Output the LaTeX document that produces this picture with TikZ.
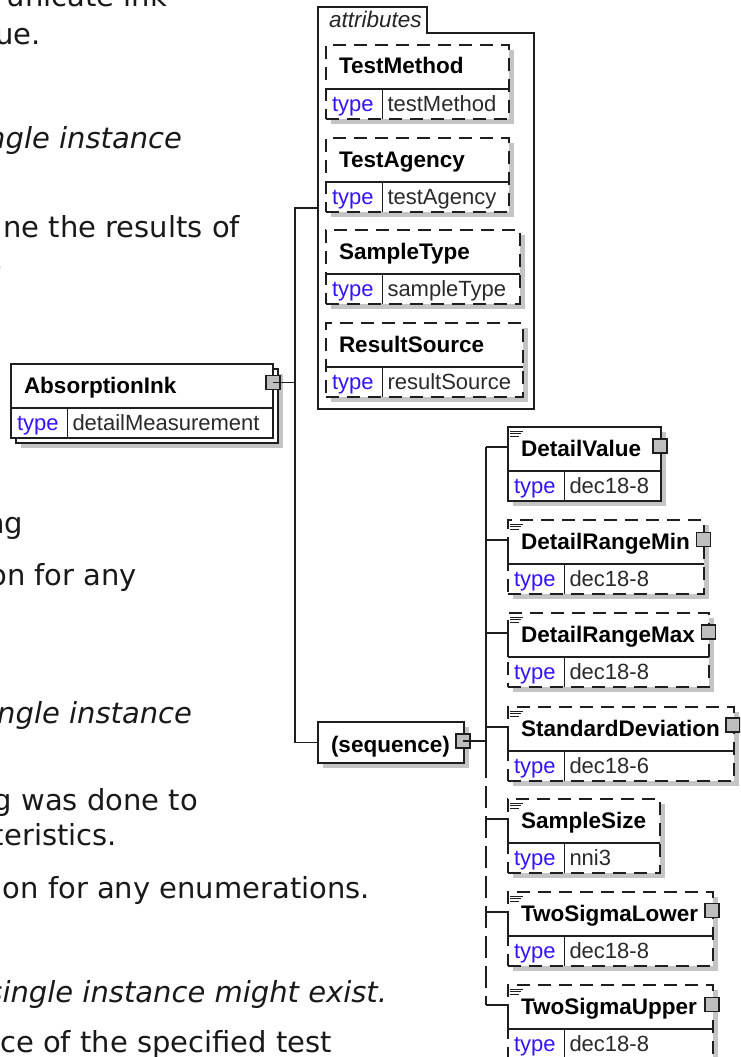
\documentclass[tikz,border=0pt]{standalone}
\usepackage{fontspec}
\setmainfont{Liberation Sans}
\newfontfamily\bgfont{DejaVu Sans}[ItalicFont={DejaVu Sans Oblique}]
\definecolor{typeblue}{HTML}{3314FF}
\definecolor{valtext}{HTML}{2A2A2A}
\definecolor{shadowgray}{HTML}{C4C4C4}
\definecolor{sqgray}{HTML}{BEBEBE}
\definecolor{linecol}{HTML}{1E1E1E}
\tikzset{
  lbl/.style={anchor=base west,inner sep=0pt,outer sep=0pt},
  bgtext/.style={anchor=base east,inner sep=0pt,outer sep=0pt,font=\bgfont\fontsize{29}{34}\selectfont,text=black!90},
  bgital/.style={bgtext,font=\bgfont\fontsize{29}{34}\selectfont\itshape},
  namefont/.style={font=\fontsize{22.5}{26}\selectfont\bfseries,text=black},
  typefont/.style={font=\fontsize{22}{26}\selectfont,text=typeblue},
  valfont/.style={font=\fontsize{22}{26}\selectfont,text=valtext},
  boxbase/.style={draw=linecol,fill=white,line width=1.3pt,inner sep=0pt,outer sep=0pt},
  solidbox/.style={},
  dashbox/.style={dash pattern=on 13pt off 8pt},
  frameline/.style={draw=linecol,line width=1.3pt},
  conn/.style={draw=linecol,line width=1.3pt},
  dconn/.style={conn,dash pattern=on 22pt off 8pt},
  sqnode/.style={draw=linecol,fill=sqgray,line width=1.1pt,minimum width=14pt,minimum height=14pt,inner sep=0pt,outer sep=0pt},
  shadowfill/.style={fill=shadowgray},
  iconline/.style={draw=linecol,line width=1pt}
}
\newcommand\xelem[7]{%
  \node[boxbase,#5,minimum width=#4pt,minimum height=74pt,anchor=north west] (#1) at (#2,#3) {};
  \coordinate (#1-hl) at ({#2},{#3+44});
  \coordinate (#1-hr) at ({#2+#4},{#3+44});
  \coordinate (#1-tv) at ({#2+56.5},{#3+44});
  \coordinate (#1-br) at ({#2},{#3+20});
  \draw[frameline] (#1-hl) -- (#1-hr);
  \draw[frameline] (#1-tv) -- (#1-tv |- #1.south);
  \node[lbl,namefont] (#1-name) at ({#2+13},{#3+29}) {#6};
  \node[lbl,typefont] (#1-type) at ({#2+6},{#3+66.5}) {type};
  \node[lbl,valfont] (#1-val) at ({#2+61.5},{#3+66.5}) {#7};
}
\newcommand\xshadow[3]{\fill[shadowfill] ({#1+5},{#2+5}) rectangle ({#1+#3+5},{#2+79});}
\newcommand\xdoc[2]{%
  \draw[iconline] ({#1+2},{#2+4}) -- ++(13,0);
  \draw[iconline] ({#1+2},{#2+6.5}) -- ++(11,0);
  \draw[iconline] ({#1+2},{#2+9}) -- ++(9,0);
}
\begin{document}
\begin{tikzpicture}[x=1pt,y=-1pt]
\clip (0,0) rectangle (740,1057);
\fill[white] (0,0) rectangle (740,1057);

% background document text
\node[bgtext] (t1) at (167,7) {unicate ink};
\node[bgtext] (t2) at (41,45) {ue.};
\node[bgital] (t3) at (182,148) {ngle instance};
\node[bgtext] (t4) at (240,237) {ne the results of};
\node[bgtext] (t5) at (4,269) {.};
\node[bgtext] (t6) at (23,533) {ng};
\node[bgtext] (t7) at (137,585) {on for any};
\node[bgital] (t8) at (192,723) {ngle instance};
\node[bgtext] (t9) at (198,810) {g was done to};
\node[bgtext] (t10) at (117,845) {teristics.};
\node[bgtext] (t11) at (370,898) {on for any enumerations.};
\node[bgital] (t12) at (387,1002) {single instance might exist.};
\node[bgtext] (t13) at (332,1052) {ce of the specified test};

% attributes container
\node[inner sep=0pt,outer sep=0pt,minimum width=216pt,minimum height=402pt,anchor=north west] (attrbox) at (318,7) {};
\draw[frameline] (attrbox.south west) -- (attrbox.north west) -- (427,7) -- (427,33) -- (534,33) -- (attrbox.south east) -- cycle;
\node[lbl,font=\fontsize{22.5}{26}\selectfont\itshape,text=black!85] (attrlabel) at (329,28) {attributes};

\xshadow{326}{45}{183}
\xelem{tm}{326}{45}{183}{dashbox}{TestMethod}{testMethod}
\xshadow{326}{138}{183}
\xelem{ta}{326}{138}{183}{dashbox}{TestAgency}{testAgency}
\xshadow{326}{230}{194}
\xelem{st}{326}{230}{194}{dashbox}{SampleType}{sampleType}
\xshadow{326}{323}{197}
\xelem{rs}{326}{323}{197}{dashbox}{ResultSource}{resultSource}

% AbsorptionInk (stacked)
\fill[shadowfill] (21,374) rectangle (283,448);
\node[boxbase,minimum width=262pt,minimum height=74pt,anchor=north west] (aiback) at (16,369) {};
\xelem{ai}{11}{364}{262}{solidbox}{AbsorptionInk}{detailMeasurement}
\node[sqnode] (aisq) at (273,382.5) {};
\coordinate (aij) at (295,382.5);
\draw[conn] (aisq.center) -- (aij);

% sequence
\fill[shadowfill] (323,727) rectangle (469,768);
\node[boxbase,minimum width=146pt,minimum height=41pt,anchor=north west] (seq) at (318,722) {};
\node[lbl,namefont] (seqlabel) at (331,752) {(sequence)};
\draw[conn] (attrbox.west) -| (aij);
\draw[conn] (aij) |- (seq.west);
\node[sqnode] (seqsq) at (463,741) {};
\coordinate (seqj) at (486,741);
\draw[conn] (seqsq.center) -- (seqj);

% sequence children
\xshadow{508}{427}{153}
\xelem{dv}{508}{427}{153}{solidbox}{DetailValue}{dec18-8}
\xshadow{508}{520}{196}
\xelem{drmin}{508}{520}{196}{dashbox}{DetailRangeMin}{dec18-8}
\xshadow{508}{613}{201}
\xelem{drmax}{508}{613}{201}{dashbox}{DetailRangeMax}{dec18-8}
\xshadow{508}{707}{226}
\xelem{sd}{508}{707}{226}{dashbox}{StandardDeviation}{dec18-6}
\xshadow{508}{799}{152}
\xelem{ss}{508}{799}{152}{dashbox}{SampleSize}{nni3}
\xshadow{508}{892}{205}
\xelem{tsl}{508}{892}{205}{dashbox}{TwoSigmaLower}{dec18-8}
\xshadow{508}{985}{205}
\xelem{tsu}{508}{985}{205}{dashbox}{TwoSigmaUpper}{dec18-8}

\foreach \t in {427,520,613,707,799,892,985} {\xdoc{508}{\t}}

\node[sqnode] (dvsq) at (660,446) {};
\node[sqnode] (drminsq) at (703.5,539.5) {};
\node[sqnode] (drmaxsq) at (708.5,632) {};
\node[sqnode] (sdsq) at (733,725) {};
\node[sqnode] (tslsq) at (712,910.5) {};
\node[sqnode] (tsusq) at (712,1004.5) {};

\coordinate (seqsolid) at (486,756);
\draw[conn] (dv-br -| seqj) -- (seqsolid);
\draw[dconn] (seqsolid) -- (tsu-br -| seqj);
\foreach \b in {dv,drmin,drmax,sd,ss,tsl,tsu} {\draw[conn] (\b-br -| seqj) -- (\b-br) -- (\b-hl);}
\end{tikzpicture}
\end{document}
